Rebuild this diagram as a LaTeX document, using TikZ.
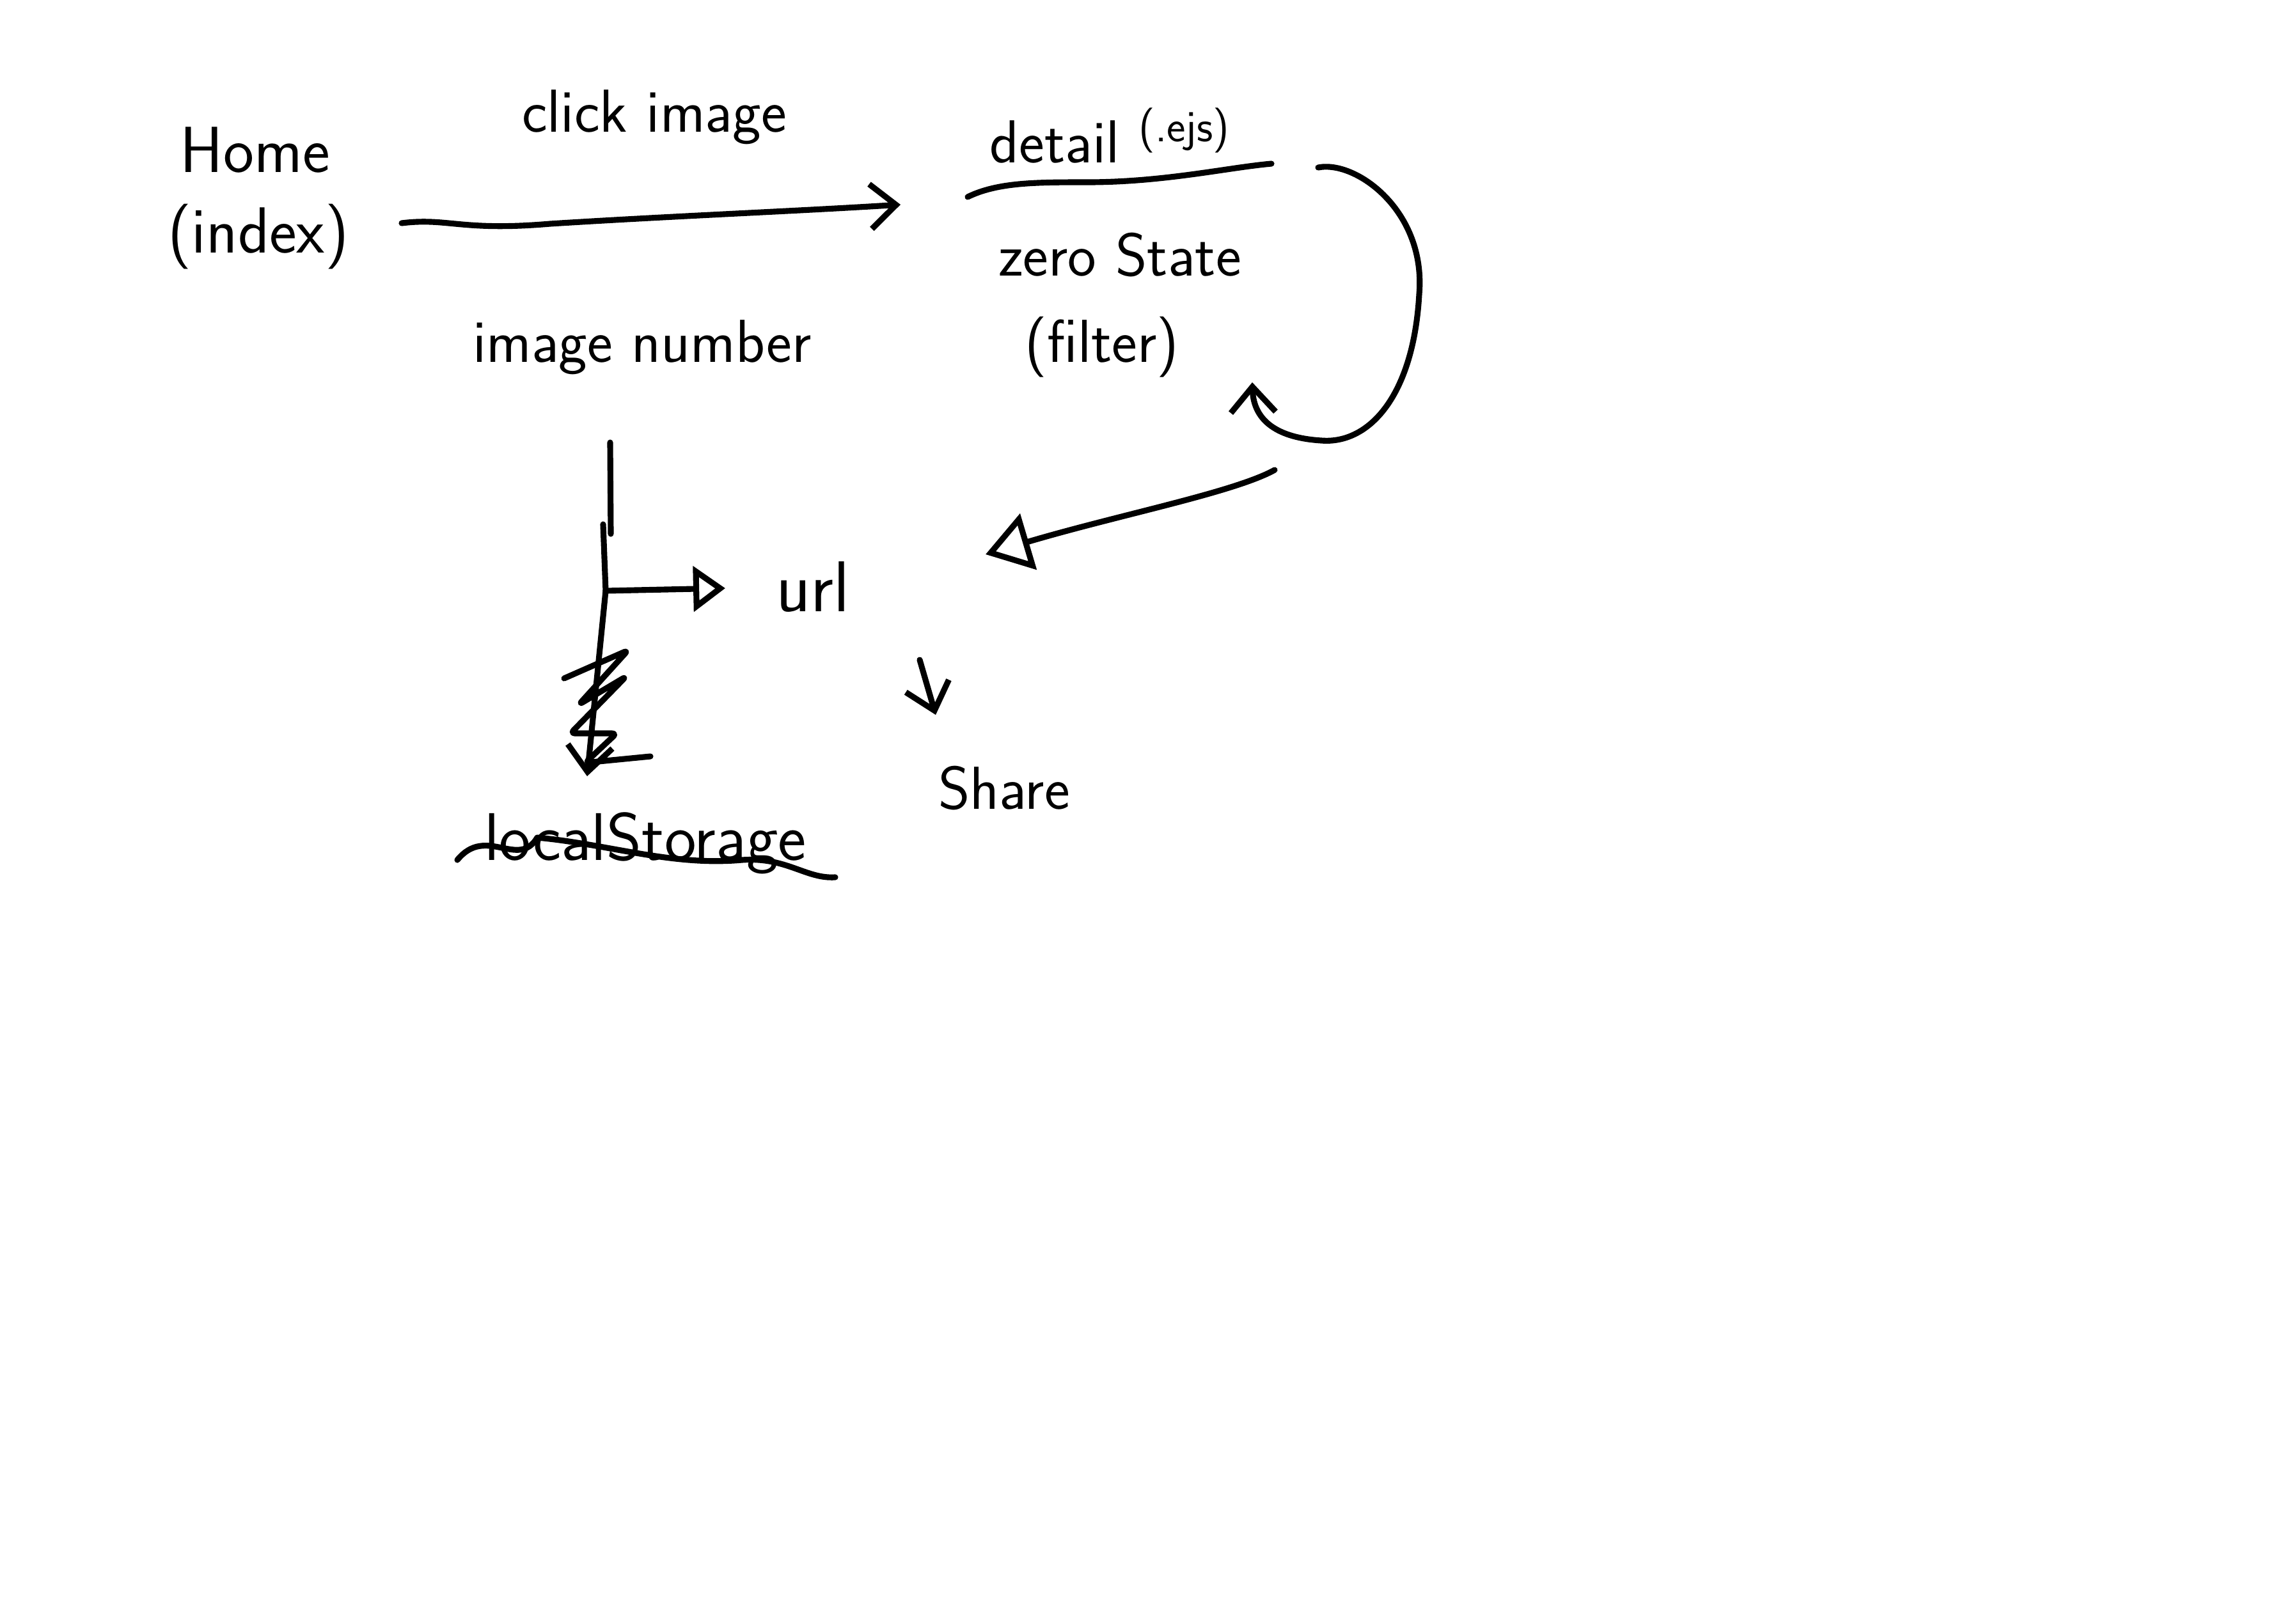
\documentclass[tikz,border=0pt]{standalone}
\usetikzlibrary{arrows.meta}
\newcommand{\handfont}[1]{\fontsize{#1}{#1}\selectfont\sffamily}

\begin{document}
\begin{tikzpicture}[x=1cm,y=1cm,
  hand/.style={font=\handfont{27}, inner sep=2pt},
  pen/.style={line width=2.6pt, line cap=round, line join=round},
  flow/.style={pen, -{Straight Barb[length=4mm,width=7mm]}},
  hollow/.style={pen, -{Triangle[open,length=5mm,width=7mm]}}]

 \useasboundingbox (0,0) rectangle (35.79,-25.39);

 \node[hand, font=\handfont{29}] (home) at (3.99,-2.35) {Home};
 \node[hand, font=\handfont{29}] (index) at (4.04,-3.70) {(index)};
 \node[hand] (click) at (10.23,-1.83) {click image};
 \node[hand] (imgnum) at (10.04,-5.43) {image number};
 \node[hand] (detail) at (17.35,-2.12) {detail \raisebox{0.35em}{\handfont{20}(.ejs)}};
 \node[hand] (zero) at (17.51,-3.99) {zero State};
 \node[hand] (filter) at (17.23,-5.43) {(filter)};
 \node[hand, font=\handfont{32}] (url) at (12.71,-9.18) {url};
 \node[hand] (share) at (15.70,-12.33) {Share};
 \node[hand, font=\handfont{30}] (local) at (10.09,-13.19) {localStorage};

 \coordinate (goA) at (6.28,-3.49);
 \coordinate (goB) at (14.08,-3.20);
 \coordinate (ulA) at (15.13,-3.08);
 \coordinate (ulB) at (19.88,-2.56);
 \coordinate (loopA) at (20.61,-2.62);
 \coordinate (loopB) at (19.58,-5.98);
 \coordinate (backA) at (19.93,-7.35);
 \coordinate (backB) at (15.41,-8.67);
 \coordinate (stemTop) at (9.54,-6.92);
 \coordinate (stemJoin) at (9.47,-9.24);
 \coordinate (stemEnd) at (9.18,-12.14);
 \coordinate (urlTip) at (11.34,-9.20);
 \coordinate (shareA) at (14.38,-10.32);
 \coordinate (shareB) at (14.63,-11.18);

 \draw[flow] (goA) .. controls (7.0,-3.40) and (7.2,-3.62) .. (8.6,-3.50)
   .. controls (10.5,-3.38) and (12.5,-3.30) .. (goB);
 \draw[pen] (ulA) .. controls (15.6,-2.85) and (16.2,-2.85) .. (17.0,-2.85)
   .. controls (18.2,-2.85) and (19.2,-2.62) .. (ulB);
 \draw[flow] (loopA) .. controls (21.2,-2.5) and (22.3,-3.3) .. (22.19,-4.6)
   .. controls (22.1,-6.2) and (21.4,-6.95) .. (20.66,-6.89)
   .. controls (20.0,-6.85) and (19.6,-6.6) .. (loopB);
 \draw[hollow, -{Triangle[open,length=7mm,width=9mm]}] (backA)
   .. controls (19.3,-7.7) and (17.5,-8.05) .. (backB);

 \draw[pen] (stemTop) -- (9.55,-8.35);
 \draw[pen] (9.43,-8.20) -- (stemJoin);
 \draw[hollow] (stemJoin) -- (urlTip);
 \draw[flow] (stemJoin) -- (stemEnd);
 \draw[pen, rounded corners=2pt] (8.82,-10.61) -- (9.82,-10.17) -- (9.05,-11.02)
   -- (9.79,-10.58) -- (8.92,-11.47) -- (9.64,-11.47) -- (9.15,-11.93) -- (10.17,-11.83);

 \draw[flow] (shareA) -- (shareB);

 \draw[pen] (7.15,-13.45) .. controls (7.6,-12.9) and (8.1,-13.6) .. (8.4,-13.1)
   .. controls (9.5,-13.2) and (10.5,-13.55) .. (11.6,-13.45)
   .. controls (12.3,-13.4) and (12.6,-13.75) .. (13.06,-13.72);
\end{tikzpicture}
\end{document}
